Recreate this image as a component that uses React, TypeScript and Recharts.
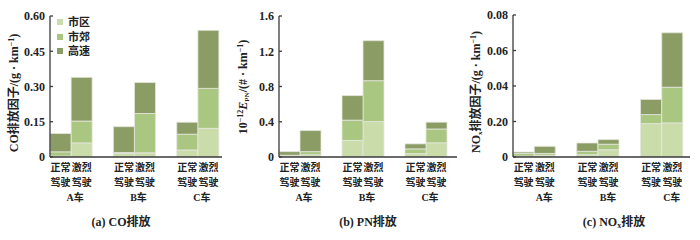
import React from 'react';
import { BarChart, Bar, XAxis, YAxis, Legend } from 'recharts';

// ---- data ----
const carGroups = ['A车', 'B车', 'C车'];
const driveModes = ['正常驾驶', '激烈驾驶'];
const seriesKeys = ['urban', 'suburban', 'highway'];
const seriesNames = ['市区', '市郊', '高速'];
const seriesColors = ['#c9dcaa', '#a9c781', '#8b9d65'];

// order: A正常, A激烈, B正常, B激烈, C正常, C激烈
const coUrban = [0.004, 0.06, 0.015, 0.018, 0.03, 0.122];
const coSuburban = [0.018, 0.093, 0.004, 0.167, 0.067, 0.17];
const coHighway = [0.078, 0.186, 0.11, 0.132, 0.051, 0.247];

const pnUrban = [0.01, 0.025, 0.188, 0.402, 0.038, 0.161];
const pnSuburban = [0.01, 0.036, 0.23, 0.464, 0.054, 0.157];
const pnHighway = [0.041, 0.239, 0.279, 0.454, 0.057, 0.077];

const noxUrban = [0.0005, 0.001, 0.0013, 0.0041, 0.0188, 0.0192];
const noxSuburban = [0.0015, 0.001, 0.0019, 0.0031, 0.0051, 0.0201];
const noxHighway = [0.0008, 0.004, 0.0047, 0.0026, 0.0085, 0.0307];

const coTicks = [0, 0.15, 0.3, 0.45, 0.6];
const coTickLabels = ['0', '0.15', '0.30', '0.45', '0.60'];
const pnTicks = [0, 0.4, 0.8, 1.2, 1.6];
const pnTickLabels = ['0', '0.4', '0.8', '1.2', '1.6'];
const noxTicks = [0, 0.02, 0.04, 0.06, 0.08];
const noxTickLabels = ['0', '0.20', '0.04', '0.06', '0.08'];

const SERIF = "'Liberation Serif', 'Times New Roman', 'Noto Sans CJK SC', serif";
const TEXT = '#222';
const AXIS = '#3a3a3a';

type Row = { key: string; group: string; mode: string; [k: string]: any };

function buildData(u: number[], s: number[], h: number[]): Row[] {
  const rows: Row[] = [];
  carGroups.forEach((g, gi) => {
    driveModes.forEach((m, mi) => {
      const i = gi * 2 + mi;
      rows.push({ key: `${g}-${m}`, group: g, mode: m, urban: u[i], suburban: s[i], highway: h[i] });
    });
    if (gi < carGroups.length - 1) rows.push({ key: `gap${gi}`, group: '', mode: '' });
  });
  return rows;
}

const coData = buildData(coUrban, coSuburban, coHighway);
const pnData = buildData(pnUrban, pnSuburban, pnHighway);
const noxData = buildData(noxUrban, noxSuburban, noxHighway);

const CatTick = (props: any) => {
  const { x, y, payload, rows, band, shift } = props;
  const row = (rows as Row[]).find((r) => r.key === payload.value);
  if (!row || !row.mode) return null;
  const style = { fontFamily: SERIF, fontSize: 10, fill: TEXT, fontWeight: 600 } as any;
  return (
    <g>
      <text x={x} y={y + 14} textAnchor="middle" style={style}>{row.mode.slice(0, 2)}</text>
      <text x={x} y={y + 29} textAnchor="middle" style={style}>{row.mode.slice(2)}</text>
      {row.mode === driveModes[0] && (
        <text x={x + band / 2 + shift} y={y + 44} textAnchor="middle" style={style}>{row.group}</text>
      )}
    </g>
  );
};

const Caption = (props: any) => {
  const { cx, cy, children } = props;
  return (
    <text x={cx} y={cy} textAnchor="middle" style={{ fontFamily: SERIF, fontSize: 12, fill: TEXT, fontWeight: 600 }}>
      {children}
    </text>
  );
};

const YTitle = (props: any) => {
  const { cx, cy, children } = props;
  return (
    <text
      x={cx}
      y={cy}
      textAnchor="middle"
      transform={`rotate(-90, ${cx}, ${cy})`}
      style={{ fontFamily: SERIF, fontSize: 12, fill: TEXT, fontWeight: 600 }}
    >
      {children}
    </text>
  );
};

const LegendBox = (props: any) => {
  const payload = (props.payload || []) as any[];
  const items = seriesNames.map((n, i) => {
    const p = payload.find((e) => e.value === n);
    return { name: n, color: p ? p.color : seriesColors[i] };
  });
  return (
    <div>
      {items.map((it) => (
        <div key={it.name} style={{ display: 'flex', alignItems: 'center', height: 14.5 }}>
          <span style={{ display: 'inline-block', width: 6, height: 6, background: it.color, marginRight: 5 }} />
          <span style={{ fontFamily: SERIF, fontSize: 11, color: TEXT, fontWeight: 600, lineHeight: '14px' }}>{it.name}</span>
        </div>
      ))}
    </div>
  );
};

type PanelProps = {
  left: number;
  width: number;
  data: Row[];
  max: number;
  ticks: number[];
  tickLabels: string[];
  plotLeft: number;
  plotRight: number;
  top: number;
  padRight: number;
  groupShift: number;
  yTitle: React.ReactNode;
  yTitleX: number;
  yTitleY: number;
  caption: React.ReactNode;
  captionX: number;
  legend?: boolean;
};

const Panel = (p: PanelProps) => {
  const height = 240;
  const bottomAxis = 83;
  const yAxisWidth = 30;
  const band = (p.plotRight - p.plotLeft - p.padRight) / p.data.length;
  return (
    <div style={{ position: 'absolute', left: p.left, top: 0, width: p.width, height }}>
      <BarChart
        width={p.width}
        height={height}
        data={p.data}
        margin={{ top: p.top, right: p.width - p.plotRight, bottom: 0, left: p.plotLeft - yAxisWidth }}
        barCategoryGap={0}
        barGap={0}
      >
        <XAxis
          dataKey="key"
          interval={0}
          tickLine={false}
          tickSize={0}
          tickMargin={0}
          height={bottomAxis}
          padding={{ left: 0, right: p.padRight }}
          axisLine={{ stroke: AXIS, strokeWidth: 1.3 }}
          tick={<CatTick rows={p.data} band={band} shift={p.groupShift} />}
          label={<Caption cx={p.captionX} cy={226}>{p.caption}</Caption>}
        />
        <YAxis
          width={yAxisWidth}
          domain={[0, p.max]}
          ticks={p.ticks}
          interval={0}
          allowDataOverflow
          tickSize={-3}
          tickMargin={8}
          axisLine={{ stroke: AXIS, strokeWidth: 1.3 }}
          tickLine={{ stroke: AXIS, strokeWidth: 1.3 }}
          tickFormatter={(v: number) => {
            const i = p.ticks.findIndex((t) => Math.abs(t - v) < 1e-9);
            return i >= 0 ? p.tickLabels[i] : String(v);
          }}
          tick={{ fontFamily: SERIF, fontSize: 12, fill: TEXT, fontWeight: 700 }}
          label={<YTitle cx={p.yTitleX} cy={p.yTitleY}>{p.yTitle}</YTitle>}
        />
        {p.legend && (
          <Legend
            layout="vertical"
            align="center"
            verticalAlign="middle"
            wrapperStyle={{ left: 57, top: 15, width: 'auto', height: 'auto' }}
            content={<LegendBox />}
          />
        )}
        {seriesKeys.map((k, i) => (
          <Bar
            key={k}
            dataKey={k}
            name={seriesNames[i]}
            stackId="s"
            fill={seriesColors[i]}
            stroke="#e6e6de"
            strokeWidth={0.8}
            isAnimationActive={false}
          />
        ))}
      </BarChart>
    </div>
  );
};

const sup = (t: string) => (
  <tspan dy={-4} fontSize={8}>{t}</tspan>
);
const back = (t: string) => (
  <tspan dy={4}>{t}</tspan>
);

export default function App() {
  return (
    <div style={{ position: 'absolute', left: 0, top: 0, width: 700, height: 240, background: '#fff', overflow: 'hidden' }}>
      <Panel
        left={0}
        width={233}
        data={coData}
        max={0.6}
        ticks={coTicks}
        tickLabels={coTickLabels}
        plotLeft={50}
        plotRight={222}
        top={16}
        padRight={3}
        groupShift={4}
        yTitle={<>CO排放因子/(g · km{sup('−1')}{back(')')}</>}
        yTitleX={18}
        yTitleY={93}
        caption={<>(a) CO排放</>}
        captionX={121}
        legend
      />
      <Panel
        left={230}
        width={233}
        data={pnData}
        max={1.6}
        ticks={pnTicks}
        tickLabels={pnTickLabels}
        plotLeft={49}
        plotRight={227}
        top={16}
        padRight={10}
        groupShift={4}
        yTitle={
          <>
            10{sup('−12')}
            <tspan dy={4} fontStyle="italic">E</tspan>
            <tspan dy={2} fontSize={7}>PN</tspan>
            <tspan dy={-2}>/(# · km</tspan>
            {sup('−1')}
            {back(')')}
          </>
        }
        yTitleX={17}
        yTitleY={87}
        caption={<>(b) PN排放</>}
        captionX={138}
      />
      <Panel
        left={460}
        width={240}
        data={noxData}
        max={0.08}
        ticks={noxTicks}
        tickLabels={noxTickLabels}
        plotLeft={53}
        plotRight={230}
        top={15}
        padRight={7}
        groupShift={10}
        yTitle={
          <>
            NO<tspan dy={2} fontSize={7}>x</tspan>
            <tspan dy={-2}>排放因子/(g · km</tspan>
            {sup('−1')}
            {back(')')}
          </>
        }
        yTitleX={20}
        yTitleY={92}
        caption={
          <>
            (c) NO<tspan dy={2} fontSize={8}>x</tspan>
            <tspan dy={-2}>排放</tspan>
          </>
        }
        captionX={154}
      />
    </div>
  );
}
